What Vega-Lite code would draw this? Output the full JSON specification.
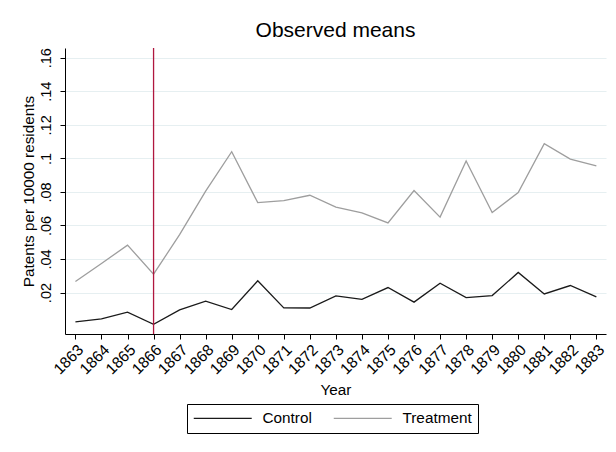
{
  "$schema": "https://vega.github.io/schema/vega-lite/v6.json",
  "width": 541,
  "height": 286,
  "autosize": "none",
  "padding": {"left": 65, "top": 48, "right": 10, "bottom": 118},
  "background": "white",
  "config": {
    "font": "Liberation Sans",
    "view": {"stroke": null},
    "axis": {"labelFont": "Liberation Sans", "titleFont": "Liberation Sans", "labelColor": "black", "titleColor": "black", "domainColor": "black", "tickColor": "black", "titleFontWeight": "normal"}
  },
  "title": {"text": "Observed means", "fontSize": 21, "font": "Liberation Sans", "fontWeight": "normal", "color": "black", "anchor": "middle", "offset": 6},
  "datasets": {
    "series": [
      {"year": 1863, "group": "Control", "value": 0.0025},
      {"year": 1864, "group": "Control", "value": 0.0043},
      {"year": 1865, "group": "Control", "value": 0.0083},
      {"year": 1866, "group": "Control", "value": 0.0011},
      {"year": 1867, "group": "Control", "value": 0.0097},
      {"year": 1868, "group": "Control", "value": 0.0149},
      {"year": 1869, "group": "Control", "value": 0.0099},
      {"year": 1870, "group": "Control", "value": 0.027},
      {"year": 1871, "group": "Control", "value": 0.0109},
      {"year": 1872, "group": "Control", "value": 0.0108},
      {"year": 1873, "group": "Control", "value": 0.018},
      {"year": 1874, "group": "Control", "value": 0.016},
      {"year": 1875, "group": "Control", "value": 0.023},
      {"year": 1876, "group": "Control", "value": 0.0143},
      {"year": 1877, "group": "Control", "value": 0.0256},
      {"year": 1878, "group": "Control", "value": 0.017},
      {"year": 1879, "group": "Control", "value": 0.0182},
      {"year": 1880, "group": "Control", "value": 0.032},
      {"year": 1881, "group": "Control", "value": 0.0192},
      {"year": 1882, "group": "Control", "value": 0.0242},
      {"year": 1883, "group": "Control", "value": 0.0174},
      {"year": 1863, "group": "Treatment", "value": 0.0266},
      {"year": 1864, "group": "Treatment", "value": 0.0373},
      {"year": 1865, "group": "Treatment", "value": 0.0483},
      {"year": 1866, "group": "Treatment", "value": 0.031},
      {"year": 1867, "group": "Treatment", "value": 0.0545},
      {"year": 1868, "group": "Treatment", "value": 0.0805},
      {"year": 1869, "group": "Treatment", "value": 0.104},
      {"year": 1870, "group": "Treatment", "value": 0.0736},
      {"year": 1871, "group": "Treatment", "value": 0.0748},
      {"year": 1872, "group": "Treatment", "value": 0.078},
      {"year": 1873, "group": "Treatment", "value": 0.071},
      {"year": 1874, "group": "Treatment", "value": 0.0675},
      {"year": 1875, "group": "Treatment", "value": 0.0615},
      {"year": 1876, "group": "Treatment", "value": 0.0808},
      {"year": 1877, "group": "Treatment", "value": 0.065},
      {"year": 1878, "group": "Treatment", "value": 0.0984},
      {"year": 1879, "group": "Treatment", "value": 0.0677},
      {"year": 1880, "group": "Treatment", "value": 0.0796},
      {"year": 1881, "group": "Treatment", "value": 0.1088},
      {"year": 1882, "group": "Treatment", "value": 0.0996},
      {"year": 1883, "group": "Treatment", "value": 0.0955}
    ],
    "marker": [{"year": 1866}]
  },
  "layer": [
    {
      "data": {"name": "series"},
      "mark": {"type": "line", "strokeWidth": 1.3},
      "encoding": {
        "x": {
          "field": "year", "type": "quantitative",
          "scale": {"domain": [1862.6, 1883.37], "nice": false, "zero": false},
          "axis": {"title": "Year", "values": [1863,1864,1865,1866,1867,1868,1869,1870,1871,1872,1873,1874,1875,1876,1877,1878,1879,1880,1881,1882,1883], "format": "d", "labelAngle": -45, "labelFontSize": 15.5, "titleFontSize": 15.3, "tickSize": 5, "labelPadding": 3, "titlePadding": 5, "grid": false, "labelOverlap": false, "labelFlush": false}
        },
        "y": {
          "field": "value", "type": "quantitative",
          "scale": {"domain": [-0.0047, 0.1658], "nice": false, "zero": false},
          "axis": {"title": "Patents per 10000 residents", "values": [0.02,0.04,0.06,0.08,0.1,0.12,0.14,0.16], "labelExpr": "replace(format(datum.value, '.2~f'), '0.', '.')", "labelAngle": -90, "labelFontSize": 14.5, "titleFontSize": 15.3, "tickSize": 5, "labelPadding": 7, "titlePadding": 2, "grid": true, "gridColor": "#e6eff1", "gridWidth": 1.2, "labelOverlap": false, "labelFlush": false}
        },
        "color": {
          "field": "group", "type": "nominal",
          "scale": {"domain": ["Control", "Treatment"], "range": ["#1a1a1a", "#9e9e9e"]},
          "legend": {"title": null, "orient": "none", "legendX": 122, "legendY": 356, "direction": "horizontal", "strokeColor": "black", "padding": 6, "symbolType": "M-1,0H7", "symbolSize": 210, "symbolStrokeWidth": 1.3, "labelFontSize": 15.3, "labelFont": "Liberation Sans", "labelColor": "black", "labelOffset": 53.5, "columnPadding": 19}
        }
      }
    },
    {
      "data": {"name": "marker"},
      "mark": {"type": "rule", "color": "#b0173f", "strokeWidth": 1.3},
      "encoding": {
        "x": {
          "field": "year", "type": "quantitative",
          "axis": {"title": "Year", "values": [1863,1864,1865,1866,1867,1868,1869,1870,1871,1872,1873,1874,1875,1876,1877,1878,1879,1880,1881,1882,1883], "format": "d", "labelAngle": -45, "labelFontSize": 15.5, "titleFontSize": 15.3, "tickSize": 5, "labelPadding": 3, "titlePadding": 5, "grid": false, "labelOverlap": false, "labelFlush": false}
        }
      }
    }
  ]
}
